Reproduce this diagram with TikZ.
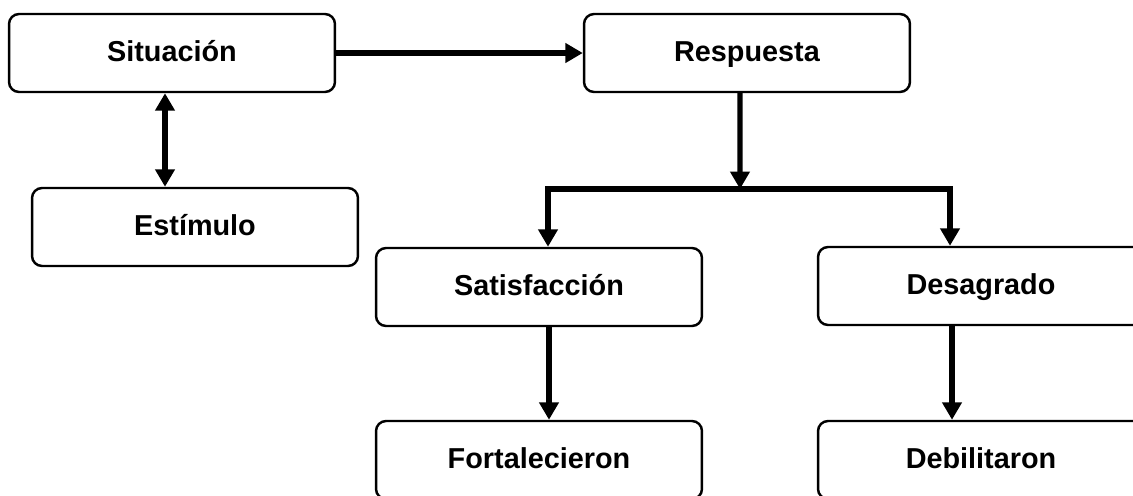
\documentclass[tikz,border=0pt]{standalone}
\usepackage{fontspec}
\setmainfont{Liberation Sans}
\usetikzlibrary{arrows.meta, positioning}
\tikzset{
	caja/.style={draw, line width=1.4pt, rounded corners=0.2cm, minimum width=6.52cm, minimum height=1.56cm, text height=0.98em, text depth=0pt, font=\fontsize{16.4}{18}\selectfont\bfseries},
	flecha/.style={line width=2.9pt, >={Triangle[length=0.35cm, width=0.38cm]}},
}
\begin{document}
\begin{tikzpicture}[x=0.02cm, y=-0.02cm]
			\useasboundingbox (0,0) rectangle (1133,495);
			\clip (0,0) rectangle (1133,495);
			
			\node [caja] (sit) at (172,53) {Situación};
			\node [caja] (resp) at (747,53) {Respuesta};
			\node [caja] (est) at (195,227) {Estímulo};
			\node [caja] (sat) at (539,287) {Satisfacción};
			\node [caja] (des) at (981,286) {Desagrado};
			\node [caja] (fort) at (539,460) {Fortalecieron};
			\node [caja] (deb) at (981,460) {Debilitaron};
			\coordinate (split) at (740,189);
			
			\draw [flecha, ->] (sit.east) -- (resp.west);
			\draw [flecha, <->] ([xshift=-0.14cm]sit.south) -- ([xshift=-0.14cm]sit.south |- est.north);
			\draw [flecha, ->] ([xshift=-0.14cm]resp.south) -- (split);
			\draw [flecha, ->] (split) -| ([xshift=0.18cm]sat.north);
			\draw [flecha, ->] (split) -| ([xshift=-0.62cm]des.north);
			\draw [flecha, ->] ([xshift=0.2cm]sat.south) -- ([xshift=0.2cm]fort.north);
			\draw [flecha, ->] ([xshift=-0.58cm]des.south) -- ([xshift=-0.58cm]deb.north);
		\end{tikzpicture}
\end{document}
